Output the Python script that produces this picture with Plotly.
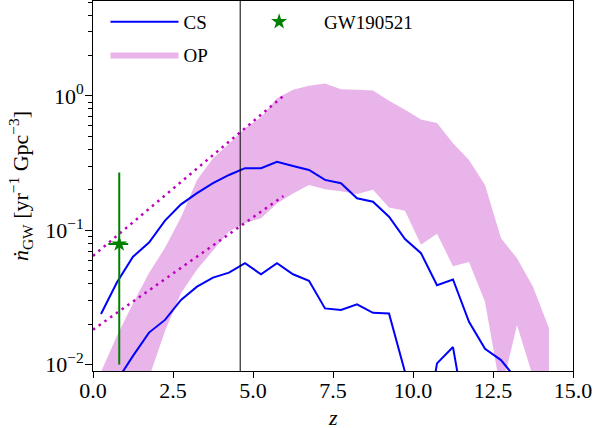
import plotly.graph_objects as go

# ---- data ----
z_op = [0.25, 0.75, 1.25, 1.75, 2.25, 2.75, 3.25, 3.75, 4.25, 4.75, 5.25, 5.75, 6.25, 6.75,
        7.25, 7.75, 8.25, 8.75, 9.25, 9.75, 10.25, 10.75, 11.25, 11.75, 12.25, 12.75, 13.25,
        13.75, 14.25]
op_upper = [0.0088, 0.0164, 0.0285, 0.048, 0.074, 0.125, 0.237, 0.343, 0.44, 0.574, 0.694, 0.96,
            1.11, 1.19, 1.24, 1.12, 1.11, 1.10, 0.92, 0.79, 0.667, 0.63, 0.444, 0.334, 0.217,
            0.087, 0.062, 0.038, 0.0186]
op_lower = [0.002, 0.003, 0.005, 0.008, 0.0178, 0.034, 0.051, 0.071, 0.098, 0.113, 0.123, 0.158,
            0.188, 0.217, 0.202, 0.195, 0.186, 0.20, 0.148, 0.14, 0.078, 0.094, 0.054, 0.058,
            0.0294, 0.0062, 0.0197, 0.0081, 0.005]

z_cs_hi = [0.25, 0.75, 1.25, 1.75, 2.25, 2.75, 3.25, 3.75, 4.25, 4.75, 5.25, 5.75, 6.25, 6.75,
           7.25, 7.75, 8.25, 8.75, 9.25, 9.75, 10.25, 10.75, 11.25, 11.75, 12.25, 12.75, 13.25]
cs_hi = [0.0238, 0.041, 0.0635, 0.081, 0.118, 0.156, 0.189, 0.224, 0.258, 0.29, 0.29, 0.323,
         0.301, 0.281, 0.237, 0.224, 0.173, 0.163, 0.126, 0.086, 0.0675, 0.039, 0.043, 0.0208,
         0.0131, 0.0108, 0.0077]

z_cs_lo = [0.25, 0.75, 1.25, 1.75, 2.25, 2.75, 3.25, 3.75, 4.25, 4.75, 5.25, 5.75, 6.25, 6.75,
           7.25, 7.75, 8.25, 8.75, 9.25, 9.75, 10.25, 10.75, 11.25, 11.75]
cs_lo = [0.004, 0.0076, 0.0116, 0.0173, 0.0215, 0.0303, 0.038, 0.0444, 0.0483, 0.0568, 0.047,
         0.0568, 0.047, 0.0421, 0.0262, 0.0255, 0.0281, 0.0243, 0.024, 0.0088, 0.002, 0.0102,
         0.0135, 0.0028]

z_dot = [0.0, 5.95]
dot_upper = [0.0644, 1.0]
dot_lower = [0.0182, 0.18]

gw_z = [0.82]
gw_rate = [0.079]
gw_rate_plus = [0.19]
gw_rate_minus = [0.069]
gw_z_plus = [0.28]
gw_z_minus = [0.34]

z_vline = 4.6

x_ticks = [0.0, 2.5, 5.0, 7.5, 10.0, 12.5, 15.0]
x_ticktext = ["0.0", "2.5", "5.0", "7.5", "10.0", "12.5", "15.0"]
y_ticks = [0.01, 0.1, 1.0]
y_ticktext = ["10<sup>−2</sup>", "10<sup>−1</sup>", "10<sup>0</sup>"]
y_minor = [0.02, 0.03, 0.04, 0.05, 0.06, 0.07, 0.08, 0.09,
           0.2, 0.3, 0.4, 0.5, 0.6, 0.7, 0.8, 0.9, 2, 3, 4, 5]

BLUE = "#0000ff"
PINK = "#e9b4ea"
MAG = "#bf00bf"
GREEN = "#008000"
FONT = "Liberation Serif"

fig = go.Figure()

# OP band
fig.add_trace(go.Scatter(x=z_op, y=op_lower, mode="lines", line=dict(width=0, color=PINK),
                         showlegend=False, hoverinfo="skip", legendgroup="op"))
fig.add_trace(go.Scatter(x=z_op, y=op_upper, mode="lines", line=dict(width=0, color=PINK),
                         fill="tonexty", fillcolor=PINK, name="OP", legendrank=2,
                         legend="legend", legendgroup="op"))

# dotted lines
for yy in (dot_upper, dot_lower):
    fig.add_trace(go.Scatter(x=z_dot, y=yy, mode="lines",
                             line=dict(color=MAG, width=2.5, dash="2.5px,4.5px"),
                             showlegend=False, hoverinfo="skip"))

# CS lines
fig.add_trace(go.Scatter(x=z_cs_hi, y=cs_hi, mode="lines", line=dict(color=BLUE, width=2),
                         name="CS", legendrank=1, legend="legend", legendgroup="cs"))
fig.add_trace(go.Scatter(x=z_cs_lo, y=cs_lo, mode="lines", line=dict(color=BLUE, width=2),
                         showlegend=False, legendgroup="cs"))

# GW190521
fig.add_trace(go.Scatter(
    x=gw_z, y=gw_rate, mode="markers", name="GW190521", legend="legend2",
    marker=dict(symbol="star", size=12, color=GREEN, line=dict(width=0)),
    error_y=dict(type="data", symmetric=False, array=gw_rate_plus, arrayminus=gw_rate_minus,
                 color=GREEN, thickness=2, width=0),
    error_x=dict(type="data", symmetric=False, array=gw_z_plus, arrayminus=gw_z_minus,
                 color=GREEN, thickness=2, width=0),
))

fig.add_vline(x=z_vline, line=dict(color="black", width=1), layer="above")

fig.update_layout(
    width=595, height=428,
    margin=dict(l=93, r=22, t=1, b=57),
    paper_bgcolor="white", plot_bgcolor="white",
    font=dict(family=FONT, size=22, color="black"),
    showlegend=True,
    legend=dict(orientation="v", x=0.026, y=0.995, xanchor="left", yanchor="top",
                bgcolor="rgba(255,255,255,0)", borderwidth=0,
                font=dict(family=FONT, size=19), itemwidth=68, traceorder="grouped",
                tracegroupgap=5),
    legend2=dict(orientation="v", x=0.294, y=0.995, xanchor="left", yanchor="top",
                 bgcolor="rgba(255,255,255,0)", borderwidth=0,
                 font=dict(family=FONT, size=19), itemwidth=80),
    annotations=[dict(text="<i>z</i>", xref="paper", yref="paper", x=0.5, y=-0.125,
                      xanchor="center", yanchor="middle", showarrow=False,
                      font=dict(family=FONT, size=22))],
)

fig.update_xaxes(range=[0, 15], tickvals=x_ticks, ticktext=x_ticktext, ticks="outside",
                 ticklen=6, tickwidth=1, tickcolor="black", showline=True, linecolor="black",
                 linewidth=1, mirror=True, showgrid=False, zeroline=False, automargin=False,
                 ticklabelstandoff=-6,
                 tickfont=dict(family=FONT, size=22))
fig.update_yaxes(type="log", range=[-2.048, 0.707], tickvals=y_ticks, ticktext=y_ticktext,
                 ticks="outside", ticklen=7, tickwidth=1, tickcolor="black", showline=True,
                 linecolor="black", linewidth=1, mirror=True, showgrid=False, zeroline=False,
                 automargin=False, ticklabelstandoff=-3,
                 minor=dict(tickmode="array", tickvals=y_minor, ticks="outside", ticklen=4,
                            tickwidth=1, tickcolor="black", showgrid=False),
                 title=dict(text="<i>ṅ</i><sub>GW</sub> [yr<sup>−1</sup> Gpc<sup>−3</sup>]",
                            font=dict(family=FONT, size=22), standoff=10),
                 tickfont=dict(family=FONT, size=22))

fig.write_html("out.html")
